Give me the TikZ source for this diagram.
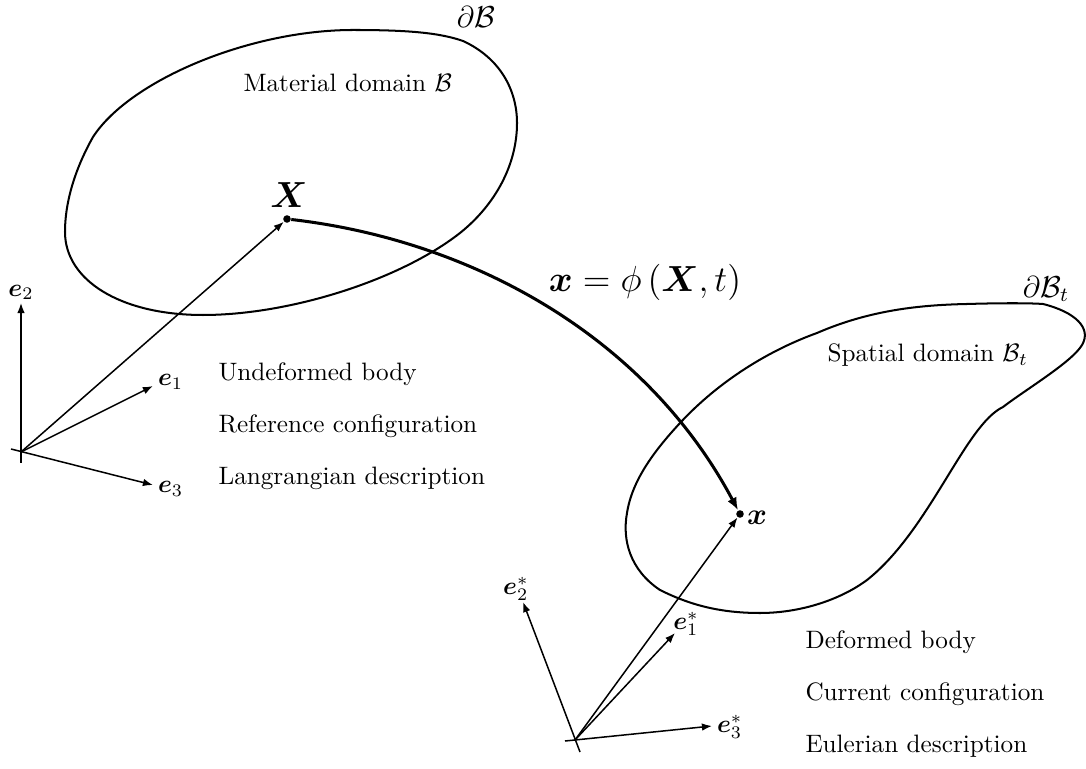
\documentclass[tikz,border=0pt]{standalone}
\usepackage{amsmath,amssymb}
\usetikzlibrary{arrows.meta}
\begin{document}
\begin{tikzpicture}[x=0.397pt,y=-0.397pt,
  blob/.style={line width=0.8pt},
  thinarrow/.style={line width=0.6pt,-{Latex[length=4pt,width=3pt]}},
  axisline/.style={line width=0.6pt,-{Latex[length=4pt,width=3pt]}},
  maparrow/.style={line width=1.2pt,-{Latex[length=5pt,width=4pt]}},
  dotnode/.style={circle,fill=black,inner sep=0pt,minimum size=3pt},
  txt/.style={anchor=base west,inner sep=0pt},
  lbl/.style={inner sep=1pt}]
\useasboundingbox (0,0) rectangle (1086,769);

% material domain
\draw[blob] (463,41) .. controls (500,58) and (517,90) .. (517,123)
  .. controls (517,165) and (495,205) .. (460,233)
  .. controls (400,280) and (290,315) .. (203,315)
  .. controls (120,315) and (65,280) .. (65,232)
  .. controls (65,195) and (80,160) .. (93,137)
  .. controls (130,80) and (250,30) .. (353,30)
  .. controls (410,30) and (440,33) .. cycle;

% spatial domain
\draw[blob] (1043,304) .. controls (1075,312) and (1092,328) .. (1082,345)
  .. controls (1072,362) and (1025,390) .. (1003,407)
  .. controls (965,425) and (930,530) .. (867,580)
  .. controls (840,600) and (800,613) .. (760,613)
  .. controls (720,613) and (690,605) .. (660,590)
  .. controls (630,570) and (622,540) .. (627,513)
  .. controls (632,480) and (655,450) .. (680,423)
  .. controls (720,380) and (770,350) .. (817,333)
  .. controls (870,310) and (920,305) .. (967,304)
  .. controls (1000,303) and (1030,303) .. cycle;

\node[lbl,inner sep=0pt] (dB) at (476,17) {\large$\partial\mathcal{B}$};
\node[lbl] (dBt) at (1046,289) {\large$\partial\mathcal{B}_t$};
\node[txt] (matdom) at (243,92) {Material domain $\mathcal{B}$};
\node[txt] (spadom) at (827,362) {Spatial domain $\mathcal{B}_t$};

% points
\node[dotnode] (X) at (287,219) {};
\node[dotnode] (x) at (740,514) {};
\node[lbl,anchor=south] (Xl) at (289,211) {\Large$\boldsymbol{X}$};
\node[lbl,anchor=west] (xl) at (744,518) {\fontsize{13}{15}\selectfont$\boldsymbol{x}$};

% mapping
\draw[maparrow] (X) .. controls (470,240) and (645,335) .. (x);
\node[lbl] (map) at (645,282) {\fontsize{13.5}{16}\selectfont$\boldsymbol{x} = \phi\left(\boldsymbol{X}, t\right)$};

% reference frame 1
\coordinate (O1) at (21,452);
\coordinate (e2b) at (21,463);
\coordinate (e2t) at (21,303);
\coordinate (e1t) at (153,386);
\coordinate (e3b) at (11,449);
\coordinate (e3t) at (153,485);
\draw[axisline] (e2b) -- (e2t);
\draw[axisline] (O1) -- (e1t);
\draw[axisline] (e3b) -- (e3t);
\draw[thinarrow] (O1) -- (X);
\node[lbl,anchor=south] (e2l) at (e2t) {$\boldsymbol{e}_2$};
\node[lbl,anchor=west] (e1l) at (155,382) {$\boldsymbol{e}_1$};
\node[lbl,anchor=west] (e3l) at (155,489) {$\boldsymbol{e}_3$};

\node[txt] (t1) at (218,381) {Undeformed body};
\node[txt] (t2) at (218,433) {Reference configuration};
\node[txt] (t3) at (218,485) {Langrangian description};

% reference frame 2
\coordinate (O2) at (575,740);
\coordinate (f2b) at (580,752);
\coordinate (f2t) at (523,602);
\coordinate (f1t) at (675,633);
\coordinate (f3b) at (565,741);
\coordinate (f3t) at (712,726);
\draw[axisline] (f2b) -- (f2t);
\draw[axisline] (O2) -- (f1t);
\draw[axisline] (f3b) -- (f3t);
\draw[thinarrow] (O2) -- (x);
\node[lbl] (f2l) at (516,589) {$\boldsymbol{e}_2^*$};
\node[lbl] (f1l) at (686,624) {$\boldsymbol{e}_1^*$};
\node[lbl,anchor=west] (f3l) at (714,727) {$\boldsymbol{e}_3^*$};

\node[txt] (s1) at (805,648) {Deformed body};
\node[txt] (s2) at (805,700) {Current configuration};
\node[txt] (s3) at (805,752) {Eulerian description};
\end{tikzpicture}
\end{document}
